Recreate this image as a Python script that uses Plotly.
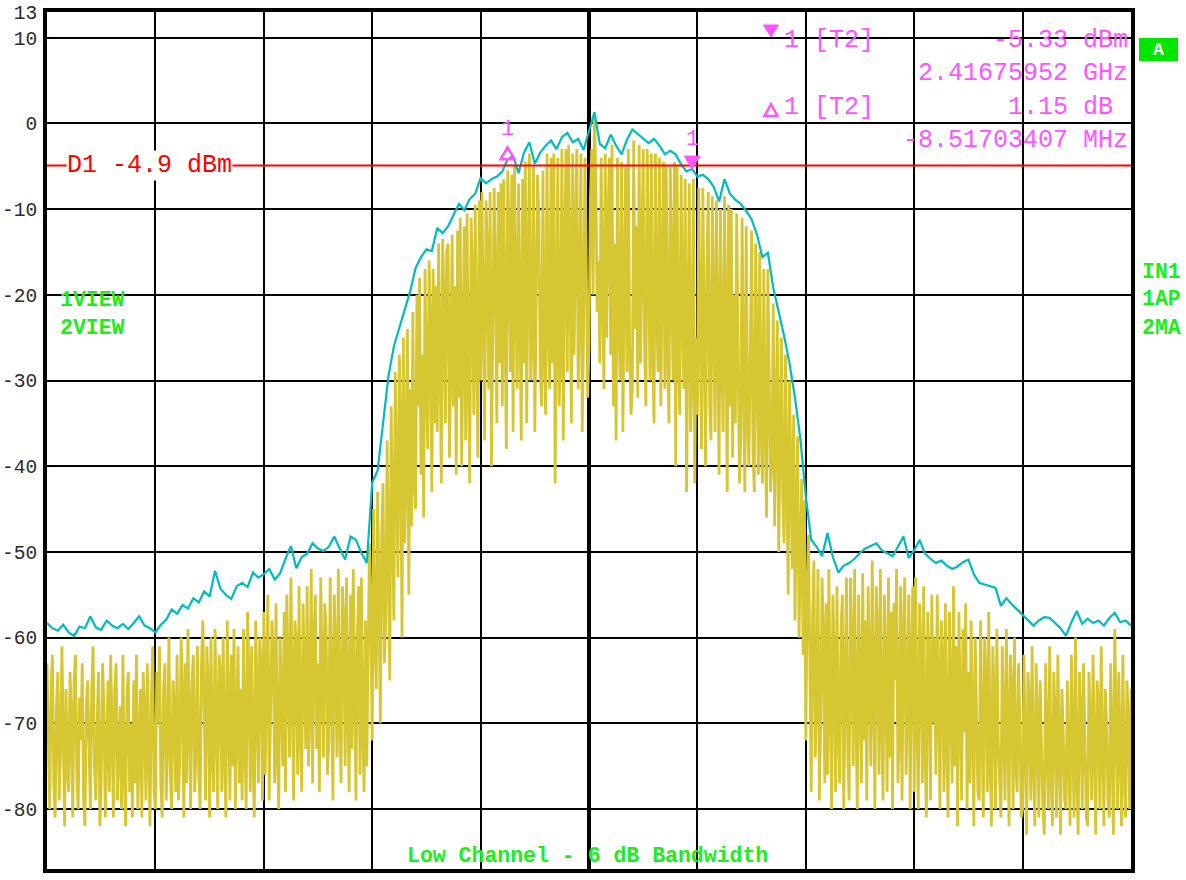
import numpy as np
import plotly.graph_objects as go

# ---------------- data ----------------
F_START, F_STOP = 2387.0, 2437.0          # MHz (centre 2412 MHz, span 50 MHz)
y_ticks = [13, 10, 0, -10, -20, -30, -40, -50, -60, -70, -80, -87]
y_tick_text = [str(v) for v in y_ticks]

# Trace 2 (max hold, cyan) - one value per 0.25 MHz
trace2_maxhold = [
    -58.3, -58.9, -59.2, -58.5,   # 2387
    -59.4, -59.8, -58.7, -58.9,   # 2388
    -57.5, -58.8, -59.1, -58.0,   # 2389
    -58.6, -58.9, -58.4, -59.0,   # 2390
    -58.3, -57.5, -58.6, -58.9,   # 2391
    -59.4, -58.5, -57.9, -56.7,   # 2392
    -57.2, -56.2, -56.6, -55.4,   # 2393
    -55.9, -54.6, -55.2, -52.2,   # 2394
    -54.3, -55.0, -55.5, -54.0,   # 2395
    -53.6, -54.1, -52.4, -53.0,   # 2396
    -52.6, -52.0, -53.2, -52.5,   # 2397
    -50.8, -49.3, -51.9, -50.6,   # 2398
    -50.2, -49.0, -49.6, -49.9,   # 2399
    -49.4, -48.2, -49.6, -50.9,   # 2400
    -48.2, -48.6, -50.1, -51.3,   # 2401
    -41.9, -40.5, -35.0, -29.5,   # 2402
    -26.0, -23.8, -21.5, -19.6,   # 2403
    -16.9, -15.6, -14.7, -14.9,   # 2404
    -12.2, -12.8, -12.0, -10.6,   # 2405
    -9.4, -10.1, -8.8, -8.2,      # 2406
    -6.4, -7.0, -6.5, -6.2,       # 2407
    -5.6, -4.2, -3.8, -5.8,       # 2408
    -3.4, -2.2, -4.7, -3.4,       # 2409
    -2.6, -2.0, -3.0, -1.6,       # 2410
    -1.1, -2.2, -1.8, -3.1,       # 2411
    -1.0, 1.3, -2.4, -2.9,        # 2412
    -1.3, -2.6, -3.6, -1.9,       # 2413
    -0.7, -1.2, -1.8, -2.3,       # 2414
    -1.8, -2.6, -3.6, -3.2,       # 2415
    -3.6, -4.8, -5.6, -5.3,       # 2416
    -6.2, -6.0, -6.5, -7.4,       # 2417
    -9.1, -6.5, -8.2, -8.9,       # 2418
    -9.4, -10.2, -11.2, -13.0,    # 2419
    -15.6, -15.1, -19.2, -22.0,   # 2420
    -24.8, -28.0, -32.0, -36.8,   # 2421
    -43.5, -48.6, -49.4, -50.5,   # 2422
    -47.8, -50.6, -52.4, -51.6,   # 2423
    -51.3, -50.8, -50.1, -49.6,   # 2424
    -49.3, -49.0, -49.8, -50.2,   # 2425
    -50.5, -49.4, -48.2, -50.7,   # 2426
    -49.8, -48.6, -50.2, -50.8,   # 2427
    -51.3, -51.0, -51.6, -52.0,   # 2428
    -51.7, -51.2, -50.9, -52.6,   # 2429
    -53.6, -53.8, -54.0, -54.2,   # 2430
    -56.3, -55.4, -56.1, -56.7,   # 2431
    -57.4, -57.9, -58.6, -58.0,   # 2432
    -57.6, -57.7, -58.3, -58.9,   # 2433
    -59.8, -58.2, -56.9, -58.4,   # 2434
    -57.8, -58.3, -58.0, -58.6,   # 2435
    -57.7, -57.1, -58.2, -58.0,   # 2436
    -58.6,                        # 2437
]

# Trace 1 (clear/write, yellow) - one value per 0.0625 MHz
trace1_clrwr = [
    -63, -71, -80, -66, -62, -77, -81, -68, -64, -79, -73, -61, -70, -82, -66, -75,  # 2387
    -78, -64, -69, -81, -65, -62, -76, -80, -67, -72, -63, -79, -82, -68, -65, -74,  # 2388
    -80, -66, -61, -75, -79, -70, -64, -82, -77, -63, -68, -81, -72, -65, -78, -62,  # 2389
    -71, -81, -66, -63, -79, -74, -68, -80, -62, -76, -82, -67, -64, -78, -70, -81,  # 2390
    -65, -77, -62, -80, -73, -66, -81, -64, -69, -79, -63, -75, -82, -67, -61, -78,  # 2391
    -80, -64, -70, -61, -77, -81, -66, -63, -79, -72, -60, -76, -80, -65, -68, -78,  # 2392
    -62, -79, -74, -60, -67, -81, -63, -77, -59, -70, -80, -65, -62, -78, -73, -61,  # 2393
    -76, -80, -63, -58, -71, -79, -61, -66, -81, -60, -74, -78, -59, -69, -80, -62,  # 2394
    -64, -78, -60, -73, -81, -58, -67, -79, -62, -75, -59, -80, -70, -61, -77, -66,  # 2395
    -79, -59, -72, -80, -57, -65, -78, -61, -74, -81, -58, -68, -77, -60, -63, -79,  # 2396
    -57, -76, -66, -55, -79, -70, -58, -62, -77, -56, -73, -80, -60, -67, -75, -57,  # 2397
    -78, -55, -64, -74, -53, -69, -79, -58, -61, -76, -54, -71, -78, -56, -66, -73,  # 2398
    -54, -75, -68, -52, -77, -60, -55, -73, -63, -78, -53, -67, -74, -56, -59, -76,  # 2399
    -72, -53, -65, -79, -55, -62, -74, -52, -70, -77, -54, -58, -75, -53, -68, -78,  # 2400
    -55, -73, -52, -67, -79, -60, -54, -76, -53, -71, -78, -58, -75, -62, -49, -57,  # 2401
    -72, -45, -60, -66, -43, -55, -70, -48, -42, -63, -58, -37, -52, -65, -33, -47,  # 2402
    -58, -29, -44, -53, -27, -36, -60, -25, -49, -40, -24, -55, -31, -47, -22, -42,  # 2403
    -45, -20, -33, -18, -41, -27, -46, -17, -30, -38, -16, -24, -43, -17, -35, -19,  # 2404
    -36, -14, -26, -42, -13.5, -21, -35, -15, -14, -39, -28, -13, -33, -19, -41, -12.5,  # 2405
    -32, -11, -40, -23, -12, -37, -10.5, -29, -42, -11, -18, -34, -9.5, -26, -39, -9,  # 2406
    -30, -8, -22, -37, -9, -15, -31, -8, -40, -27, -7.5, -19, -35, -8, -28, -7,      # 2407
    -33, -6.5, -24, -38, -5.5, -13, -29, -6, -36, -5, -20, -31, -7, -26, -37, -6.5,  # 2408
    -28, -4.5, -35, -17, -3.5, -30, -25, -5, -36, -21, -6, -11, -29, -33, -5.5, -27,  # 2409
    -34, -3.5, -23, -31, -4, -28, -3.5, -42, -19, -4, -33, -26, -3, -37, -15, -3,    # 2410
    -29, -2.5, -18, -35, -3.5, -27, -13, -3, -31, -22, -3.5, -36, -24, -4, -16, -32,  # 2411
    -26, -9, -3, -20, 1, -6, -22, -16, -28, -4, -19, -31, -3.5, -25, -12, -4,        # 2412
    -27, -2.5, -33, -14, -37, -4, -23, -30, -4.5, -36, -19, -5, -29, -3, -26, -34,   # 2413
    -31, -2, -24, -12, -32, -2.5, -28, -18, -3, -26, -33, -3, -21, -30, -3.5, -27,   # 2414
    -35, -3.5, -22, -29, -4, -33, -17, -4.5, -31, -5, -26, -35, -5, -20, -30, -4.5,  # 2415
    -40, -5, -27, -34, -6, -21, -31, -6.5, -43, -24, -7, -36, -29, -6.5, -42, -25,   # 2416
    -34, -7.5, -25, -38, -7.5, -30, -40, -17, -8, -33, -37, -8.5, -22, -36, -9, -31,  # 2417
    -41, -10, -28, -36, -8.5, -24, -43, -9.5, -33, -10, -39, -20, -35, -10.5, -30, -42,  # 2418
    -37, -11, -29, -43, -12, -34, -40, -22, -12.5, -38, -43, -14, -31, -41, -15, -36,  # 2419
    -42, -17, -35, -46, -17, -29, -43, -39, -21, -47, -33, -23, -50, -38, -25, -44,  # 2420
    -49, -27, -45, -55, -30, -41, -52, -34, -58, -46, -36.5, -60, -51, -41.5, -62, -44,  # 2421
    -72, -55, -48, -64, -78, -58, -51, -74, -66, -52, -79, -70, -53, -60, -77, -56,  # 2422
    -76, -52, -68, -80, -55, -63, -78, -54, -71, -77, -59, -55, -80, -66, -53, -74,  # 2423
    -79, -53, -61, -75, -52, -69, -80, -55, -64, -77, -52.5, -72, -58, -79, -54, -67,  # 2424
    -75, -51, -66, -80, -54, -60, -76, -52, -70, -79, -55, -63, -78, -53, -74, -57,  # 2425
    -80, -56, -65, -52, -77, -71, -54, -79, -60, -53, -76, -68, -55, -80, -62, -54,  # 2426
    -78, -53, -69, -80, -56, -62, -77, -54, -73, -81, -57, -65, -79, -55, -70, -60,  # 2427
    -76, -55, -67, -80, -58, -63, -78, -56, -72, -81, -57, -69, -77, -54, -75, -61,  # 2428
    -82, -57, -66, -79, -59, -71, -56, -80, -64, -77, -58, -73, -82, -60, -68, -78,  # 2429
    -79, -58, -70, -81, -60, -65, -78, -57, -74, -82, -61, -67, -80, -59, -72, -78,  # 2430
    -81, -61, -69, -79, -59, -73, -82, -62, -66, -80, -60, -75, -78, -63, -70, -81,  # 2431
    -80, -62, -71, -83, -64, -68, -79, -61, -75, -82, -63, -70, -81, -65, -73, -80,  # 2432
    -83, -63, -72, -80, -61, -76, -82, -64, -69, -81, -62, -74, -83, -66, -71, -79,  # 2433
    -80, -65, -73, -82, -62, -70, -81, -60, -76, -83, -64, -69, -80, -63, -74, -81,  # 2434
    -82, -64, -71, -79, -62, -75, -83, -65, -68, -80, -61, -73, -82, -66, -70, -79,  # 2435
    -81, -63, -74, -83, -59, -69, -80, -64, -72, -82, -62, -76, -81, -65, -70, -80,  # 2436
    -66,                                                                              # 2437
]

marker1_freq = 2416.75952       # MHz
marker1_level = -5.33           # dBm
delta1_freq_offset = -8.51703407  # MHz
delta1_level_offset = 1.15      # dB
display_line_d1 = -4.9          # dBm

marker_lines = [
    ("1 [T2]", "-5.33 dBm"),
    ("", "2.41675952 GHz"),
    ("1 [T2]", "1.15 dB "),
    ("", "-8.51703407 MHz"),
]

# ---------------- figure ----------------
f2 = np.linspace(F_START, F_STOP, len(trace2_maxhold))
f1 = np.linspace(F_START, F_STOP, len(trace1_clrwr))

YELLOW = "#D6C632"
CYAN = "#00BCBE"
MAGENTA = "#FF55FF"
GREEN = "#19F019"
MONO = "Liberation Mono, Courier New, monospace"

W, H = 1186, 880
ML, MR, MT, MB = 47, 55, 12, 11
PW, PH = W - ML - MR, H - MT - MB


def px(xp):
    return (xp - ML) / PW


def py(yp):
    return (H - MB - yp) / PH


fig = go.Figure()
fig.add_trace(go.Scatter(x=f1, y=trace1_clrwr, mode="lines",
                         line=dict(color=YELLOW, width=2.8), hoverinfo="skip",
                         showlegend=False))
fig.add_trace(go.Scatter(x=f2, y=trace2_maxhold, mode="lines",
                         line=dict(color=CYAN, width=2.2), hoverinfo="skip",
                         showlegend=False))

shapes = []
# thick centre grid line
shapes.append(dict(type="line", xref="x", yref="paper", x0=(F_START + F_STOP) / 2,
                   x1=(F_START + F_STOP) / 2, y0=0, y1=1,
                   line=dict(color="black", width=4), layer="below"))
# display line D1
shapes.append(dict(type="line", xref="paper", yref="y", x0=0, x1=1,
                   y0=display_line_d1, y1=display_line_d1,
                   line=dict(color="#FF0000", width=2), layer="above"))

# markers on trace
m1_x, m1_y = marker1_freq, marker1_level
d1_x, d1_y = marker1_freq + delta1_freq_offset, marker1_level + delta1_level_offset
shapes.append(dict(type="path", xref="x", yref="y", xsizemode="pixel", ysizemode="pixel",
                   xanchor=m1_x, yanchor=m1_y, path="M -8,13 L 8,13 L 0,0 Z",
                   fillcolor=MAGENTA, line=dict(color=MAGENTA, width=1), layer="above"))
shapes.append(dict(type="path", xref="x", yref="y", xsizemode="pixel", ysizemode="pixel",
                   xanchor=d1_x, yanchor=d1_y, path="M -7,0 L 7,0 L 0,12 Z",
                   fillcolor="rgba(0,0,0,0)", line=dict(color=MAGENTA, width=2.5),
                   layer="above"))
# marker symbols in the readout
shapes.append(dict(type="path", xref="paper", yref="paper", xsizemode="pixel",
                   ysizemode="pixel", xanchor=px(771), yanchor=py(37),
                   path="M -7.5,12 L 7.5,12 L 0,0 Z", fillcolor=MAGENTA,
                   line=dict(color=MAGENTA, width=1), layer="above"))
shapes.append(dict(type="path", xref="paper", yref="paper", xsizemode="pixel",
                   ysizemode="pixel", xanchor=px(771), yanchor=py(116),
                   path="M -6.5,0 L 6.5,0 L 0,12 Z", fillcolor="rgba(0,0,0,0)",
                   line=dict(color=MAGENTA, width=2.5), layer="above"))
# "A" box
shapes.append(dict(type="rect", xref="paper", yref="paper",
                   x0=px(1139), x1=px(1178), y0=py(61), y1=py(38),
                   fillcolor="#00E600", line=dict(width=0), layer="above"))

ann = []
# marker numbers above markers
for (xx, yy) in [(m1_x, m1_y), (d1_x, d1_y)]:
    ann.append(dict(x=xx, y=yy, xref="x", yref="y", text="1", showarrow=False,
                    yshift=30, font=dict(family=MONO, size=22, color=MAGENTA)))

# readout
row_y = [40, 73, 107, 141]
for (left, right), yy in zip(marker_lines, row_y):
    if left:
        ann.append(dict(x=px(782), y=py(yy), xref="paper", yref="paper", text=left,
                        showarrow=False, xanchor="left", yanchor="middle",
                        font=dict(family=MONO, size=25, color=MAGENTA)))
    ann.append(dict(x=px(1130), y=py(yy), xref="paper", yref="paper",
                    text=right.replace(" ", "&nbsp;"),
                    showarrow=False, xanchor="right", yanchor="middle",
                    font=dict(family=MONO, size=25, color=MAGENTA)))

# D1 label
ann.append(dict(x=px(66), y=display_line_d1, xref="paper", yref="y",
                text="D1&nbsp;-4.9&nbsp;dBm", showarrow=False, xanchor="left",
                yanchor="middle", bgcolor="white", borderpad=0,
                font=dict(family=MONO, size=25, color="#FF0000")))

# A box label
ann.append(dict(x=px(1158.5), y=py(49.5), xref="paper", yref="paper", text="<b>A</b>",
                showarrow=False, xanchor="center", yanchor="middle",
                font=dict(family=MONO, size=18, color="white")))

# green labels
for txt, xx, yy, anc in [("1VIEW", 58, 300, "left"), ("2VIEW", 58, 328, "left"),
                         ("IN1", 1140, 272, "left"), ("1AP", 1140, 299, "left"),
                         ("2MA", 1140, 328, "left")]:
    ann.append(dict(x=px(xx), y=py(yy), xref="paper", yref="paper",
                    text="<b>%s</b>" % txt, showarrow=False, xanchor=anc,
                    yanchor="middle", font=dict(family=MONO, size=21.5, color=GREEN)))
ann.append(dict(x=px(587), y=py(856), xref="paper", yref="paper",
                text="<b>Low&nbsp;Channel&nbsp;-&nbsp;6&nbsp;dB&nbsp;Bandwidth</b>",
                showarrow=False, xanchor="center", yanchor="middle",
                font=dict(family=MONO, size=21.5, color=GREEN)))

fig.update_layout(
    width=W, height=H,
    margin=dict(l=ML, r=MR, t=MT, b=MB, pad=0, autoexpand=False),
    paper_bgcolor="white", plot_bgcolor="white",
    shapes=shapes, annotations=ann, showlegend=False,
    xaxis=dict(range=[F_START, F_STOP], tick0=F_START, dtick=5, showticklabels=False,
               showgrid=True, gridcolor="black", gridwidth=2, zeroline=False,
               showline=True, linecolor="black", linewidth=4, mirror=True, ticks="",
               fixedrange=True, automargin=False),
    yaxis=dict(range=[-87, 13], tickmode="array", tickvals=y_ticks, ticktext=y_tick_text,
               showgrid=True, gridcolor="black", gridwidth=2, zeroline=False,
               showline=True, linecolor="black", linewidth=4, mirror=True, ticks="",
               tickfont=dict(family=MONO, size=19.5, color="#2a2a2a"),
               ticklabelstandoff=2, fixedrange=True, automargin=False),
)

fig.write_html("out.html")
